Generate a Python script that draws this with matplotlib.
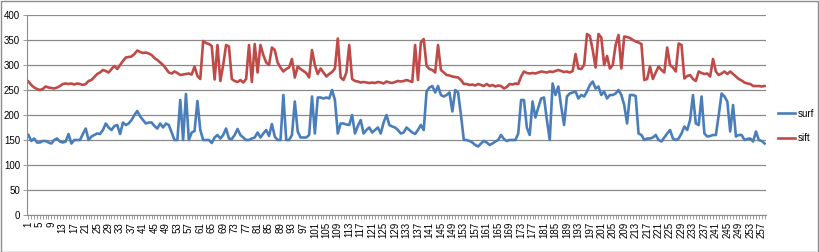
import matplotlib
matplotlib.use("Agg")
import matplotlib.pyplot as plt
from matplotlib.patches import Rectangle

# values, one per category 1..258
surf = [
    160, 148, 153, 145, 145, 148, 148, 145, 143, 150,
    153, 147, 145, 147, 162, 143, 150, 150, 150, 162,
    173, 150, 157, 160, 163, 162, 170, 183, 175, 170,
    178, 180, 162, 185, 180, 183, 190, 200, 208, 197,
    190, 183, 185, 185, 178, 173, 183, 175, 183, 180,
    165, 150, 150, 230, 150, 242, 150, 165, 168, 228,
    170, 150, 150, 150, 144, 155, 160, 153, 160, 173,
    153, 152, 160, 172, 160, 155, 150, 150, 153, 155,
    165, 155, 163, 170, 158, 182, 157, 150, 150, 240,
    150, 150, 160, 227, 167, 155, 155, 155, 160, 237,
    163, 235, 235, 233, 235, 233, 250, 230, 163, 183,
    183, 181, 180, 200, 163, 178, 190, 163, 170, 175,
    165, 170, 175, 163, 185, 200, 180, 177, 175, 170,
    163, 165, 175, 170, 165, 162, 170, 180, 170, 247,
    255, 258, 245, 258, 240, 237, 240, 245, 207, 250,
    245, 200, 150, 150, 148, 145, 140, 137, 143, 148,
    145, 140, 143, 147, 150, 160, 152, 148, 150, 150,
    150, 163, 230, 230, 175, 160, 227, 195, 215, 233,
    235, 190, 150, 263, 240, 257, 217, 180, 237, 243,
    245, 247, 233, 240, 237, 247, 260, 267, 253, 257,
    240, 247, 233, 240, 240, 243, 250, 240, 220, 183,
    240, 240, 238, 163, 160, 150, 153, 153, 155, 160,
    150, 147, 155, 163, 170, 153, 150, 153, 163, 177,
    170, 190, 240, 183, 180, 237, 163, 157, 158, 160,
    160, 200, 243, 237, 227, 167, 220, 157, 160, 160,
    150, 152, 153, 147, 167, 150, 148, 143,
]

sift = [
    267, 260, 255, 252, 250, 252, 257, 255, 254, 253,
    255, 258, 262, 263, 262, 263, 261, 263, 262, 260,
    262, 268, 270, 276, 282, 285, 290, 288, 285, 292,
    298, 292, 300, 308, 315, 316, 317, 322, 329, 326,
    324, 325, 323, 320, 314, 310, 305, 300, 293, 285,
    283, 287, 284, 280, 281, 282, 283, 281, 297, 278,
    272, 348, 344, 342, 338, 271, 340, 268, 300, 340,
    337, 272, 268, 266, 270, 265, 272, 340, 266, 342,
    285, 340, 320, 305, 300, 335, 330, 305, 295, 287,
    292, 295, 312, 275, 297, 292, 288, 284, 275, 330,
    300, 282, 293, 285, 277, 282, 286, 293, 353, 275,
    270, 285, 340, 272, 268, 267, 265, 266, 265, 264,
    265, 264, 266, 265, 263, 267, 265, 264, 266, 268,
    267, 268, 270, 268, 266, 340, 270, 345, 352, 298,
    292, 290, 285, 340, 290, 285, 280, 279, 277, 276,
    275, 270, 262, 262, 260, 261, 259, 262, 260, 258,
    262, 258, 260, 257, 259, 258, 253, 256, 262, 261,
    263, 262, 277, 287, 284, 283, 284, 283, 285, 287,
    286, 285, 287, 286, 288, 290, 288, 286, 287, 285,
    288, 322, 293, 292, 300, 362, 358, 330, 295, 362,
    355, 300, 318, 293, 300, 340, 360, 293, 357, 356,
    354, 350, 347, 345, 342, 270, 272, 297, 272, 285,
    297, 290, 285, 335, 300, 295, 287, 343, 340, 273,
    278, 280, 272, 268, 287, 284, 282, 283, 277, 312,
    287, 280, 283, 287, 282, 287, 282, 277, 272, 269,
    265, 263, 262, 258, 258, 258, 257, 258,
]

x = list(range(1, len(surf) + 1))
xlabels = [str(i) if (i - 1) % 4 == 0 else "" for i in x]
yticks = [0, 50, 100, 150, 200, 250, 300, 350, 400]

plt.rcParams['font.family'] = ['Liberation Sans', 'DejaVu Sans']

W, H = 819, 252
fig = plt.figure(figsize=(W / 100, H / 100), dpi=100)
fig.patches.append(Rectangle((0.5 / W, 0.5 / H), 1 - 1.5 / W, 1 - 1.5 / H,
                             transform=fig.transFigure, fill=False,
                             edgecolor='#8c8c8c', lw=1))

ax = fig.add_axes([27 / W, 37 / H, 739 / W, 200 / H])
ax.plot(x, surf, color='#4A7EBB', lw=1.9, label='surf', solid_joinstyle='round')
ax.plot(x, sift, color='#BE4B48', lw=1.9, label='sift', solid_joinstyle='round')

ax.set_xlim(0.5, len(x) + 0.5)
ax.set_ylim(0, 400)
ax.set_yticks(yticks)
ax.set_xticks(x)
ax.set_xticklabels(xlabels, rotation=90)
ax.tick_params(axis='x', length=3, width=0.6, color='#8c8c8c', labelsize=7, pad=2)
ax.tick_params(axis='y', length=3, width=0.6, color='#8c8c8c', labelsize=7, pad=2)
ax.yaxis.grid(True, color='#8a8a8a', lw=0.9)
ax.set_axisbelow(True)
for s in ['top', 'right']:
    ax.spines[s].set_visible(False)
for s in ['left', 'bottom']:
    ax.spines[s].set_color('#8c8c8c')
    ax.spines[s].set_linewidth(0.8)

fig.legend(loc='center left', bbox_to_anchor=(774 / W, 1 - 126 / H),
           frameon=False, fontsize=7, handlelength=1.8, handletextpad=0.2,
           labelspacing=1.5, borderaxespad=0)

fig.savefig('out.png', dpi=100)
